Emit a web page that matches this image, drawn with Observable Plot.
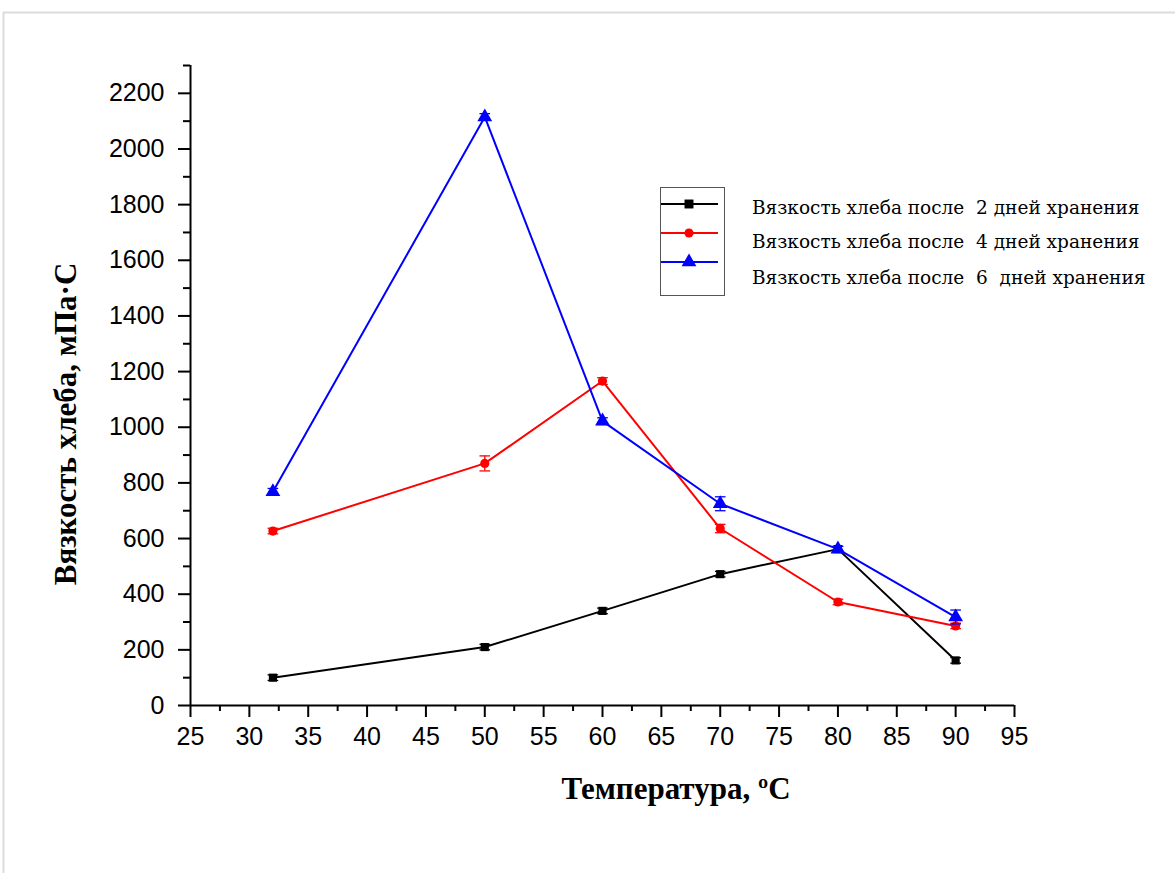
<!DOCTYPE html>
<html>
<head>
<meta charset="utf-8">
<script src="https://cdn.jsdelivr.net/npm/d3@7"></script>
<script src="https://cdn.jsdelivr.net/npm/@observablehq/plot@0.6"></script>
<style>
  body { margin: 0; background: #fff; }
  #chart svg { display: block; }
</style>
</head>
<body>
<div id="chart"></div>
<script>
const temps = [32, 50, 60, 70, 80, 90];
const days2 = [100, 210, 340, 472, 562, 162];
const days4 = [627, 870, 1166, 636, 372, 286];
const days6 = [768, 2115, 1022, 725, 562, 318];
const err2 = [10, 10, 10, 10, 10, 10];
const err4 = [10, 27, 12, 15, 10, 10];
const err6 = [12, 12, 12, 25, 10, 25];
const seriesNames = [
  "Вязкость хлеба после  2 дней хранения",
  "Вязкость хлеба после  4 дней хранения",
  "Вязкость хлеба после  6  дней хранения"
];
const seriesColors = ["#000000", "#ff0000", "#0000ff"];
const seriesSymbols = ["square", "circle", "triangle"];
const xTicks = d3.range(25, 96, 5);
const xMinor = d3.range(27.5, 95, 5);
const yTicks = d3.range(0, 2201, 200);
const yMinor = d3.range(100, 2301, 200);
const xTitle = "Температура, ºC";
const yTitle = "Вязкость хлеба, мПа·С";

const all = [days2, days4, days6];
const errs = [err2, err4, err6];
const data = [];
all.forEach((vals, s) => vals.forEach((v, i) => data.push({s, x: temps[i], y: v, e: errs[s][i]})));

const capSymbol = { draw(ctx, size) { const w = Math.sqrt(size); ctx.moveTo(-w / 2, 0); ctx.lineTo(w / 2, 0); } };

const W = 1175, H = 873;
const marks = [];
marks.push(Plot.ruleX([25], {y1: 0, y2: 2300, stroke: "#000", strokeWidth: 2}));
marks.push(Plot.ruleY([0], {x1: 25, x2: 95, stroke: "#000", strokeWidth: 2}));
marks.push(Plot.axisX({ticks: xTicks, tickSize: 12, tickPadding: 10, tickFormat: d => String(d), fontSize: 25, stroke: "#000", strokeWidth: 2}));
marks.push(Plot.axisX({ticks: xMinor, tickSize: 6, tickFormat: () => "", stroke: "#000", strokeWidth: 2}));
marks.push(Plot.axisY({ticks: yTicks, tickSize: 12, tickPadding: 14, tickFormat: d => String(d), fontSize: 25, stroke: "#000", strokeWidth: 2}));
marks.push(Plot.axisY({ticks: yMinor, tickSize: 7, tickFormat: () => "", stroke: "#000", strokeWidth: 2}));

[0, 1, 2].forEach(s => {
  const d = data.filter(r => r.s === s);
  const c = seriesColors[s];
  marks.push(Plot.line(d, {x: "x", y: "y", stroke: c, strokeWidth: 2}));
  marks.push(Plot.ruleX(d, {x: "x", y1: r => r.y - r.e, y2: r => r.y + r.e, stroke: c, strokeWidth: 1.3}));
  marks.push(Plot.dot(d, {x: "x", y: r => r.y - r.e, symbol: capSymbol, r: 6, stroke: c, strokeWidth: 1.3}));
  marks.push(Plot.dot(d, {x: "x", y: r => r.y + r.e, symbol: capSymbol, r: 6, stroke: c, strokeWidth: 1.3}));
  marks.push(Plot.dot(d, {x: "x", y: "y", symbol: seriesSymbols[s], fill: c, stroke: "none", r: s === 2 ? 5.5 : 4.6}));
});

const chart = Plot.plot({
  width: W,
  height: H,
  marginLeft: 190,
  marginRight: 161,
  marginTop: 65,
  marginBottom: 168,
  style: {fontFamily: "'Liberation Sans', Arial, sans-serif", color: "#000", background: "transparent"},
  x: {domain: [25, 95], label: null, axis: null},
  y: {domain: [0, 2300], label: null, axis: null},
  marks
});
document.getElementById("chart").appendChild(chart);

const svg = d3.select(chart);
svg.insert("rect", ":first-child")
  .attr("x", 3.5).attr("y", 12.5).attr("width", 1200).attr("height", 900)
  .attr("fill", "#fff").attr("stroke", "#dcdcdc").attr("stroke-width", 2);

svg.append("text")
  .attr("x", 676).attr("y", 799)
  .attr("text-anchor", "middle")
  .style("font-family", "'Liberation Serif', 'Times New Roman', serif")
  .style("font-weight", "bold").style("font-size", "31px")
  .text(xTitle);

svg.append("text")
  .attr("transform", "translate(76,424) rotate(-90)")
  .attr("text-anchor", "middle")
  .style("font-family", "'Liberation Serif', 'Times New Roman', serif")
  .style("font-weight", "bold").style("font-size", "31px")
  .text(yTitle);

// legend
const lg = svg.append("g").attr("text-anchor", "start");
lg.append("rect").attr("x", 660.5).attr("y", 187.5).attr("width", 64).attr("height", 108)
  .attr("fill", "#fff").attr("stroke", "#555").attr("stroke-width", 1);
const lineYs = [204, 233, 262];
const textYs = [214, 248, 284];
const sym = [d3.symbolSquare, d3.symbolCircle, d3.symbolTriangle];
const symSize = [80, 66, 95];
seriesNames.forEach((n, i) => {
  lg.append("line").attr("x1", 661).attr("x2", 718).attr("y1", lineYs[i]).attr("y2", lineYs[i])
    .attr("stroke", seriesColors[i]).attr("stroke-width", 2);
  lg.append("path").attr("d", d3.symbol(sym[i], symSize[i])())
    .attr("transform", `translate(689,${lineYs[i]})`).attr("fill", seriesColors[i]);
  lg.append("text").attr("x", 752).attr("y", textYs[i])
    .attr("text-anchor", "start")
    .style("font-family", "'DejaVu Serif', serif").style("font-size", "18.5px")
    .style("white-space", "pre")
    .text(n);
});
</script>
</body>
</html>
